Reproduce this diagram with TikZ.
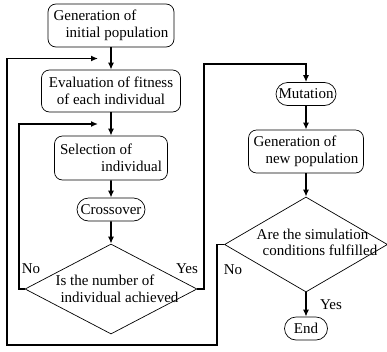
\documentclass[tikz,border=0pt]{standalone}
\usepackage{fontspec}
\setmainfont{Liberation Serif}
\usetikzlibrary{shapes.geometric, shapes.misc, arrows.meta, calc}
\tikzset{
    kasten/.style={draw, line width=0.7pt, rounded corners=8pt, align=left, inner xsep=5pt},
    oval/.style={draw, line width=0.7pt, rounded rectangle, minimum height=23pt, inner xsep=3pt},
    raute/.style={draw, line width=0.7pt, diamond, inner sep=0pt},
    pfeil/.style={line width=1.8pt, -{Latex[length=7pt,width=6pt]}},
}

\begin{document}
\begin{tikzpicture}[x=1pt, y=-1pt, font=\fontsize{15pt}{16.5pt}\selectfont]

\useasboundingbox (0,0) rectangle (387,351);

% Linke Spalte
\node[kasten, minimum width=126pt, minimum height=43pt] (G1) at (111,25.5)
    {Generation of\\\hspace*{12pt}initial population};
\node[kasten, align=center, minimum width=139pt, minimum height=42pt] (E) at (111,91)
    {Evaluation of fitness\\of each individual};
\node[kasten, minimum width=113pt, minimum height=44pt] (S) at (111,158)
    {Selection of\\\hspace*{41pt}individual};
\node[oval, minimum width=74pt] (C) at (111,209.5) {Crossover};
\node[raute, minimum width=172pt, minimum height=90pt,
    label={[align=left, xshift=6pt]center:{Is the number of\\\hspace*{5pt}individual achieved}}]
    (D1) at (111,289) {};

% Rechte Spalte
\node[oval, minimum width=66pt] (M) at (306,94) {Mutation};
\node[kasten, minimum width=114pt, minimum height=43pt] (G2) at (306,151.5)
    {Generation of\\\hspace*{12pt}new population};
\node[raute, minimum width=163pt, minimum height=95pt,
    label={[align=left, xshift=11pt, yshift=2pt]center:{Are the simulation\\\hspace*{6pt}conditions fulfilled}}]
    (D2) at (306,244.5) {};
\node[oval, minimum width=49pt] (End) at (306,328.5) {End};

% Pfeile
\draw[pfeil] (G1) -- (E);
\draw[pfeil] (E) -- (S);
\draw[pfeil] (S) -- (C);
\draw[pfeil] (C) -- (D1);
\draw[pfeil] (M) -- (G2);
\draw[pfeil] (G2) -- (D2);
\draw[pfeil] (D2) -- (End);

% Rueckfuehrungen
\coordinate (k1) at ($(G1.south)!0.5!(E.north)+(-13,0)$);
\coordinate (k2) at ($(E.south)!0.5!(S.north)+(-13,0)$);
\draw[pfeil] (D2.west) -- ++(-7,0) |- (7,345) |- (k1);
\draw[pfeil] (D1.west) -- ++(-6,0) |- (k2);
\draw[pfeil] (D1.east) -- ++(7,0) |- ([yshift=18pt]M.north) -- (M.north);

% Beschriftungen
\node (nein1) at (31,269) {No};
\node (ja1)   at (187,269) {Yes};
\node (nein2) at (233,270) {No};
\node (ja2)   at (331,305) {Yes};
\end{tikzpicture}
\end{document}
